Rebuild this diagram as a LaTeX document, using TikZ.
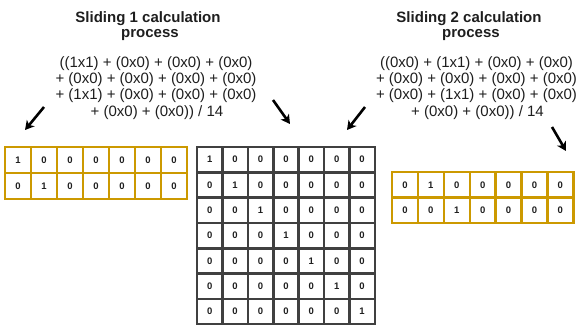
\documentclass[tikz,border=0pt]{standalone}
\usepackage{fontspec}
\setmainfont{Liberation Sans}
\usetikzlibrary{arrows.meta}
\definecolor{gridgold}{RGB}{204,153,0}
\definecolor{griddark}{RGB}{64,64,64}
\definecolor{ink}{RGB}{30,30,30}
\tikzset{
  titletext/.style={font=\bfseries\fontsize{15}{15}\selectfont, text=ink, anchor=base, inner sep=0pt},
  formulatext/.style={font=\fontsize{15}{15}\selectfont, text=ink, anchor=base, inner sep=0pt},
  digit/.style={font=\bfseries\fontsize{9.5}{9.5}\selectfont, text=ink, inner sep=0pt},
  goldcell/.style={draw=gridgold, line width=2.4pt, fill=white, inner sep=0pt},
  darkcell/.style={draw=griddark, line width=2.6pt, fill=white, inner sep=0pt},
  pointer/.style={draw=black, line width=2.6pt, -{Stealth[length=9pt,width=10pt,inset=2.5pt]}},
}
\begin{document}
\begin{tikzpicture}[x=1pt,y=-1pt]
\useasboundingbox (0,0) rectangle (580,325);

% headings
\node[titletext] (t1a) at (148,22.7) {Sliding 1 calculation};
\node[titletext] (t1b) at (150,37) {process};
\node[titletext] (t2a) at (469,22.7) {Sliding 2 calculation};
\node[titletext] (t2b) at (471,37) {process};

% weighted sums
\node[formulatext] (f1a) at (156,67) {((1x1) + (0x0) + (0x0) + (0x0)};
\node[formulatext] (f1b) at (156,83.3) {+ (0x0) + (0x0) + (0x0) + (0x0)};
\node[formulatext] (f1c) at (156,99.6) {+ (1x1) + (0x0) + (0x0) + (0x0)};
\node[formulatext] (f1d) at (157,116) {+ (0x0) + (0x0)) / 14};
\node[formulatext] (f2a) at (476.5,67) {((0x0) + (1x1) + (0x0) + (0x0)};
\node[formulatext] (f2b) at (476.5,83.3) {+ (0x0) + (0x0) + (0x0) + (0x0)};
\node[formulatext] (f2c) at (476.5,99.6) {+ (0x0) + (1x1) + (0x0) + (0x0)};
\node[formulatext] (f2d) at (477.5,116) {+ (0x0) + (0x0)) / 14};

% left window: rows 1-2 of the identity
\foreach \r in {0,1}{
  \foreach \c in {0,...,6}{
    \pgfmathtruncatemacro{\v}{\r==\c ? 1 : 0}
    \node[goldcell, minimum width=26pt, minimum height=26pt, digit]
      (L-\r-\c) at ({5+13+26*\c},{147+13+26*\r}) {\v};
  }
}

% 7x7 identity matrix
\foreach \r in {0,...,6}{
  \foreach \c in {0,...,6}{
    \pgfmathtruncatemacro{\v}{\r==\c ? 1 : 0}
    \node[darkcell, minimum width=25.4pt, minimum height=25.3pt, digit]
      (M-\r-\c) at ({197+12.7+25.4*\c},{147+12.65+25.3*\r}) {\v};
  }
}

% right window: rows 2-3 of the identity
\foreach \r in {0,1}{
  \foreach \c in {0,...,6}{
    \pgfmathtruncatemacro{\v}{(\r+1)==\c ? 1 : 0}
    \node[goldcell, minimum width=25.9pt, minimum height=25.5pt, digit]
      (R-\r-\c) at ({392+12.95+25.9*\c},{172+12.75+25.5*\r}) {\v};
  }
}

% pointers
\coordinate (a1s) at (44,107);
\coordinate (a1e) at (25,130);
\coordinate (a2s) at (273,100);
\coordinate (a2e) at (290,124);
\coordinate (a3s) at (365,107);
\coordinate (a3e) at (347,130);
\coordinate (a4s) at (552,127);
\coordinate (a4e) at (566,151);
\draw[pointer] (a1s) -- (a1e);
\draw[pointer] (a2s) -- (a2e);
\draw[pointer] (a3s) -- (a3e);
\draw[pointer] (a4s) -- (a4e);
\end{tikzpicture}
\end{document}
